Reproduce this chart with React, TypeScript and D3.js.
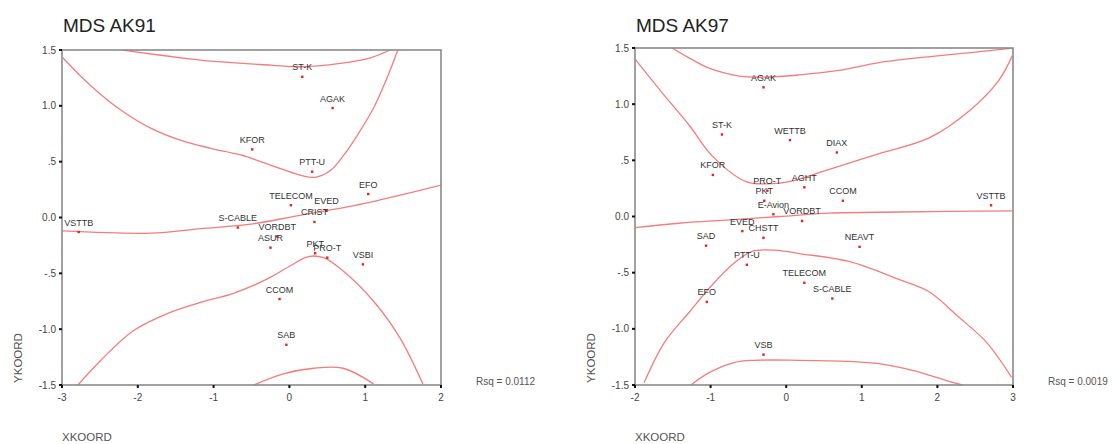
import React from 'react';
import * as d3 from 'd3';

type Pt = [number, number];

// ---------- AK91 data ----------
const ak91Names = ['ST-K', 'AGAK', 'KFOR', 'PTT-U', 'EFO', 'TELECOM', 'EVED', 'CRIST', 'S-CABLE', 'VSTTB', 'VORDBT', 'ASUR', 'PKT', 'PRO-T', 'VSBI', 'CCOM', 'SAB'];
const ak91X = [0.17, 0.57, -0.49, 0.30, 1.04, 0.02, 0.49, 0.33, -0.68, -2.78, -0.16, -0.25, 0.34, 0.50, 0.97, -0.13, -0.04];
const ak91Y = [1.26, 0.98, 0.61, 0.41, 0.21, 0.11, 0.06, -0.04, -0.09, -0.13, -0.17, -0.27, -0.32, -0.36, -0.42, -0.73, -1.14];
const ak91CurveTop: Pt[] = [[-2.2, 1.5], [-1.17, 1.41], [-0.38, 1.37], [0.14, 1.35], [0.67, 1.38], [1.07, 1.43], [1.33, 1.5]];
const ak91CurveUpper: Pt[] = [[-2.99, 1.43], [-2.62, 1.18], [-2.22, 0.96], [-1.83, 0.8], [-1.43, 0.69], [-1.04, 0.62], [-0.64, 0.56], [-0.25, 0.47], [0.14, 0.38], [0.34, 0.36], [0.54, 0.42], [0.72, 0.56], [0.9, 0.74], [1.11, 0.98], [1.3, 1.27], [1.43, 1.5]];
const ak91CurveMid: Pt[] = [[-2.99, -0.12], [-1.83, -0.14], [-1.17, -0.1], [-0.51, -0.06], [0.14, 0.02], [0.8, 0.1], [1.46, 0.2], [2.0, 0.29]];
const ak91CurveLower: Pt[] = [[-2.79, -1.5], [-2.49, -1.28], [-2.05, -1.01], [-1.61, -0.86], [-1.17, -0.76], [-0.74, -0.68], [-0.29, -0.55], [0.02, -0.43], [0.25, -0.35], [0.45, -0.36], [0.71, -0.48], [1.11, -0.75], [1.46, -1.08], [1.76, -1.49]];
const ak91CurveBottom: Pt[] = [[-0.47, -1.5], [-0.08, -1.4], [0.32, -1.35], [0.71, -1.35], [1.11, -1.49]];
const ak91XTicks = [-3, -2, -1, 0, 1, 2];

// ---------- AK97 data ----------
const ak97Names = ['AGAK', 'ST-K', 'WETTB', 'DIAX', 'KFOR', 'PRO-T', 'PKT', 'AGHT', 'CCOM', 'VSTTB', 'E-Avion', 'VORDBT', 'EVED', 'CHSTT', 'SAD', 'NEAVT', 'PTT-U', 'TELECOM', 'S-CABLE', 'EFO', 'VSB'];
const ak97X = [-0.30, -0.85, 0.05, 0.67, -0.97, -0.25, -0.29, 0.24, 0.75, 2.71, -0.17, 0.21, -0.58, -0.30, -1.06, 0.97, -0.52, 0.24, 0.61, -1.05, -0.30];
const ak97Y = [1.15, 0.73, 0.68, 0.57, 0.37, 0.23, 0.14, 0.26, 0.14, 0.10, 0.02, -0.04, -0.13, -0.19, -0.26, -0.27, -0.43, -0.59, -0.73, -0.76, -1.23];
const ak97CurveTop: Pt[] = [[-1.51, 1.5], [-1.28, 1.41], [-1.02, 1.32], [-0.62, 1.25], [-0.29, 1.24], [0.17, 1.26], [0.7, 1.3], [1.23, 1.37], [2.0, 1.43], [2.6, 1.47], [3.0, 1.5]];
const ak97CurveUpper: Pt[] = [[-2.01, 1.41], [-1.64, 1.1], [-1.28, 0.81], [-0.98, 0.54], [-0.53, 0.31], [-0.26, 0.29], [0.04, 0.31], [0.57, 0.42], [1.23, 0.56], [1.89, 0.7], [2.42, 0.94], [2.81, 1.21], [2.99, 1.43]];
const ak97CurveMid: Pt[] = [[-2.01, -0.1], [-1.42, -0.06], [-0.75, -0.03], [-0.09, 0.0], [0.57, 0.03], [1.49, 0.04], [2.99, 0.05]];
const ak97CurveLower: Pt[] = [[-1.88, -1.48], [-1.61, -1.12], [-1.28, -0.85], [-0.98, -0.61], [-0.7, -0.42], [-0.45, -0.31], [-0.15, -0.3], [0.17, -0.33], [0.83, -0.4], [1.49, -0.56], [1.89, -0.67], [2.29, -0.9], [2.65, -1.12], [2.98, -1.43]];
const ak97CurveBottom: Pt[] = [[-1.26, -1.5], [-1.02, -1.39], [-0.69, -1.3], [-0.42, -1.28], [0.17, -1.28], [0.83, -1.29], [1.23, -1.31], [1.67, -1.37], [2.12, -1.46], [2.33, -1.5]];
const ak97XTicks = [-2, -1, 0, 1, 2, 3];

const yTicks = [1.5, 1.0, 0.5, 0.0, -0.5, -1.0, -1.5];
const yTickLabels = ['1.5', '1.0', '.5', '0.0', '-.5', '-1.0', '-1.5'];

const FONT = 'Liberation Sans, Arial, sans-serif';

interface PanelProps {
  id: string;
  title: string;
  rsq: string;
  names: string[];
  xs: number[];
  ys: number[];
  curves: Pt[][];
  xDomain: [number, number];
  xTicks: number[];
  left: number;
  right: number;
  top: number;
  bottom: number;
}

function Panel(p: PanelProps) {
  const x = d3.scaleLinear().domain(p.xDomain).range([p.left, p.right]);
  const y = d3.scaleLinear().domain([-1.5, 1.5]).range([p.bottom, p.top]);
  const line = d3
    .line<Pt>()
    .x((d) => x(d[0]))
    .y((d) => y(d[1]))
    .curve(d3.curveCatmullRom.alpha(0.5));
  const clipId = `clip-${p.id}`;
  return (
    <g>
      <defs>
        <clipPath id={clipId}>
          <rect x={p.left} y={p.top} width={p.right - p.left} height={p.bottom - p.top} />
        </clipPath>
      </defs>
      <text x={p.left + 1} y={32} fontFamily={FONT} fontSize={19} fill="#222">
        {p.title}
      </text>
      <g clipPath={`url(#${clipId})`}>
        {p.curves.map((c, i) => (
          <path key={i} d={line(c) || ''} fill="none" stroke="#f47c7c" strokeWidth={1.3} />
        ))}
      </g>
      <rect
        x={p.left}
        y={p.top}
        width={p.right - p.left}
        height={p.bottom - p.top}
        fill="none"
        stroke="#8a8a8a"
        strokeWidth={1.6}
      />
      {yTicks.map((t, i) => (
        <g key={`y${i}`}>
          <line x1={p.left - 3} x2={p.left} y1={y(t)} y2={y(t)} stroke="#111" strokeWidth={2} />
          <text
            x={p.left - 6}
            y={y(t) + 3.5}
            textAnchor="end"
            fontFamily={FONT}
            fontSize={10}
            fill="#444"
          >
            {yTickLabels[i]}
          </text>
        </g>
      ))}
      {p.xTicks.map((t, i) => (
        <g key={`x${i}`}>
          <line x1={x(t)} x2={x(t)} y1={p.bottom} y2={p.bottom + 3} stroke="#111" strokeWidth={2} />
          <text x={x(t)} y={p.bottom + 16} textAnchor="middle" fontFamily={FONT} fontSize={10} fill="#444">
            {t}
          </text>
        </g>
      ))}
      {p.names.map((n, i) => (
        <g key={`p${i}`}>
          <rect x={x(p.xs[i]) - 1.2} y={y(p.ys[i]) - 1.2} width={2.4} height={2.4} fill="#e82020" />
          <text
            x={x(p.xs[i])}
            y={y(p.ys[i]) - 6.5}
            textAnchor="middle"
            fontFamily={FONT}
            fontSize={9}
            fill="#333"
          >
            {n}
          </text>
        </g>
      ))}
      <text
        transform={`translate(${p.left - 40},${358}) rotate(-90)`}
        textAnchor="middle"
        fontFamily={FONT}
        fontSize={11.5}
        fill="#555"
      >
        YKOORD
      </text>
      <text x={p.left} y={441} fontFamily={FONT} fontSize={11.5} fill="#555">
        XKOORD
      </text>
      <text x={p.right + 35} y={385} fontFamily={FONT} fontSize={10} fill="#555">
        {p.rsq}
      </text>
    </g>
  );
}

export default function App() {
  return (
    <svg
      width={1116}
      height={444}
      style={{ position: 'absolute', left: 0, top: 0, background: '#fff' }}
    >
      <rect x={0} y={0} width={1116} height={444} fill="#fff" />
      <Panel
        id="ak91"
        title="MDS AK91"
        rsq="Rsq = 0.0112"
        names={ak91Names}
        xs={ak91X}
        ys={ak91Y}
        curves={[ak91CurveTop, ak91CurveUpper, ak91CurveMid, ak91CurveLower, ak91CurveBottom]}
        xDomain={[-3, 2]}
        xTicks={ak91XTicks}
        left={62}
        right={441}
        top={50}
        bottom={385}
      />
      <Panel
        id="ak97"
        title="MDS AK97"
        rsq="Rsq = 0.0019"
        names={ak97Names}
        xs={ak97X}
        ys={ak97Y}
        curves={[ak97CurveTop, ak97CurveUpper, ak97CurveMid, ak97CurveLower, ak97CurveBottom]}
        xDomain={[-2, 3]}
        xTicks={ak97XTicks}
        left={635}
        right={1013}
        top={48}
        bottom={385}
      />
    </svg>
  );
}
